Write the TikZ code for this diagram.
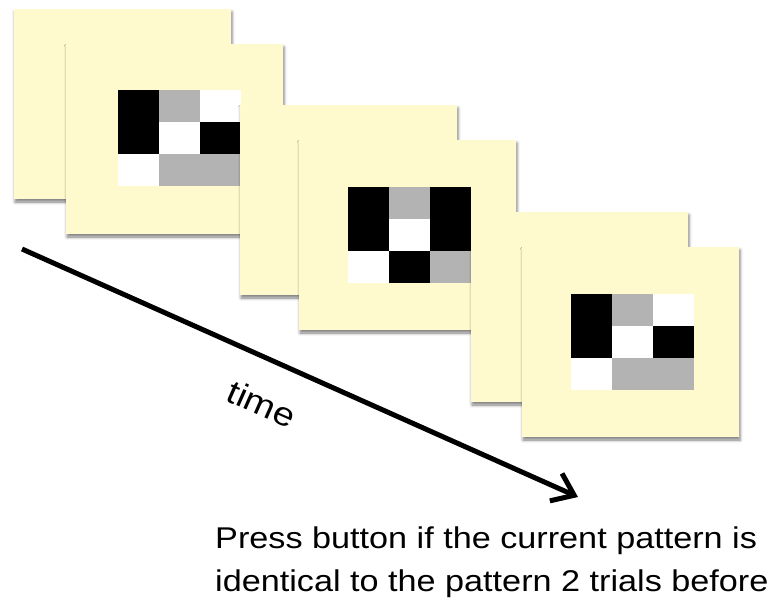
\documentclass[tikz,border=0pt]{standalone}
\usepackage{fontspec}
\setmainfont[FakeStretch=1.14]{Liberation Sans}
\usetikzlibrary{arrows.meta,shadows.blur}
\definecolor{cardyellow}{HTML}{FFFACD}
\definecolor{cellgray}{HTML}{B3B3B3}
\tikzset{
  card/.style={fill=cardyellow, draw=none, inner sep=0pt, outer sep=0pt,
    minimum width=217pt, minimum height=190pt, anchor=north west,
    blur shadow={shadow xshift=1pt, shadow yshift=-3pt, shadow blur radius=3pt, shadow opacity=50}},
  blk/.style={fill=black},
  gry/.style={fill=cellgray},
  wht/.style={fill=white},
  lbl/.style={font=\fontsize{30}{43.7}\selectfont, inner sep=0pt},
  timelbl/.style={font=\fontsize{33}{40}\selectfont, inner sep=0pt},
  timearrow/.style={line width=5pt, -{Straight Barb[length=20pt,width=30pt]}}
}
% pattern shared by trials 1 and 3
\newcommand{\drawpatA}[1]{%
  \fill[wht] (#1) rectangle ++(123,96);
  \fill[blk] (#1) rectangle ++(41,64);
  \fill[gry] (#1) ++(41,0) rectangle ++(41,32);
  \fill[blk] (#1) ++(82,32) rectangle ++(41,32);
  \fill[gry] (#1) ++(41,64) rectangle ++(82,32);
}
% pattern of trial 2
\newcommand{\drawpatB}[1]{%
  \fill[wht] (#1) rectangle ++(123,96);
  \fill[blk] (#1) rectangle ++(41,64);
  \fill[gry] (#1) ++(41,0) rectangle ++(41,32);
  \fill[blk] (#1) ++(82,0) rectangle ++(41,64);
  \fill[blk] (#1) ++(41,64) rectangle ++(41,32);
  \fill[gry] (#1) ++(82,64) rectangle ++(41,32);
}
\begin{document}
\begin{tikzpicture}[x=1pt,y=-1pt]
\useasboundingbox (0,0) rectangle (779,606);
% trial 1
\node[card] (A1) at (14,9) {};
\node[card] (B1) at (66,44) {};
\coordinate (p1) at (118,90);
\drawpatA{p1}
% trial 2
\node[card] (A2) at (240,105) {};
\node[card] (B2) at (299,140) {};
\coordinate (p2) at (348,187);
\drawpatB{p2}
% trial 3
\node[card] (A3) at (471,212) {};
\node[card] (B3) at (522,247) {};
\coordinate (p3) at (571,294);
\drawpatA{p3}
% time arrow
\coordinate (ts) at (22,249);
\coordinate (te) at (578,497);
\draw[timearrow] (ts) -- (te);
\node[timelbl, rotate=-24] (time) at (262,404) {time};
% instruction
\node[lbl, anchor=base west] (note1) at (215,548) {Press button if the current pattern is};
\node[lbl, anchor=base west] (note2) at (215,591.7) {identical to the pattern 2 trials before};
\end{tikzpicture}
\end{document}
